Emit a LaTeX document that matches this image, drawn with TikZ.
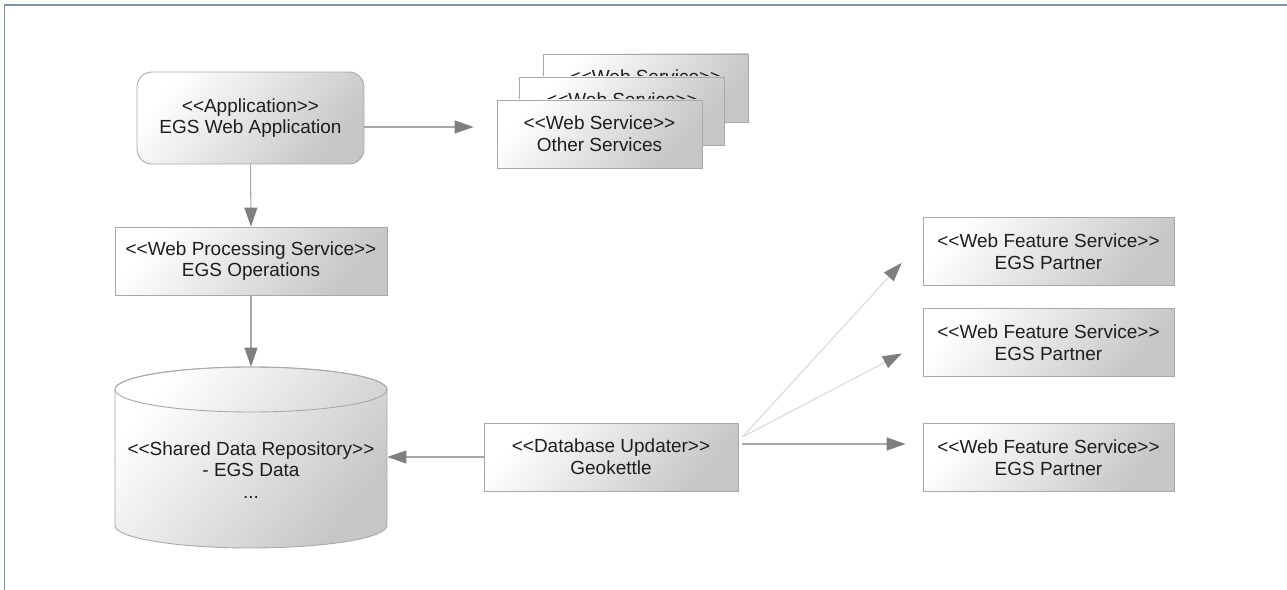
\documentclass[tikz,border=0pt]{standalone}
\usepackage{fontspec}
\setmainfont{Liberation Sans}
\usetikzlibrary{arrows.meta}

\definecolor{framec}{HTML}{7D92A9}
\definecolor{edgec}{HTML}{A8A8A8}
\definecolor{tipc}{HTML}{7F7F7F}
\definecolor{inkc}{HTML}{1E1E1E}
% keep << and >> from turning into guillemets
\newcommand\stl{<\kern0pt<}
\newcommand\str{>\kern0pt>}

\begin{document}
\begin{tikzpicture}[x=0.02cm,y=-0.02cm,
  lbl/.style={text=inkc,align=center,font=\fontsize{10.8}{12.4}\selectfont,inner sep=0pt},
  box/.style={lbl,draw=edgec,line width=0.5pt,top color=white,bottom color=gray!45,shading angle=50},
  flow/.style={draw=edgec,line width=0.6pt,-{Triangle[length=0.38cm,width=0.26cm,color=tipc]}},
  faint/.style={flow,draw=gray!30}]
\useasboundingbox (0,0) rectangle (1287,590);
% frame
\draw[framec,line width=0.04cm] (4.5,590) -- (4.5,5.5) -- (1287,5.5);

% application and web services
\node[box,rounded corners=0.3cm,minimum width=4.54cm,minimum height=1.84cm] (app) at (250.5,118)
  {\stl Application\str\\EGS Web Application};
\node[box,minimum width=4.1cm,minimum height=1.36cm] (ws3) at (645.5,88) {\stl Web Service\str\\Other Services};
\node[box,minimum width=4.1cm,minimum height=1.36cm] (ws2) at (622,111) {\stl Web Service\str\\Other Services};
\node[box,minimum width=4.1cm,minimum height=1.36cm] (ws1) at (599.5,134) {\stl Web Service\str\\Other Services};
\node[box,minimum width=5.44cm,minimum height=1.36cm] (wps) at (251,261)
  {\stl Web Processing Service\str\\EGS Operations};

% repository
\path[box] (115,389.5) -- (115,525.5)
  arc[start angle=180,end angle=360,x radius=2.72cm,y radius=0.45cm] -- (387,389.5)
  arc[start angle=0,end angle=180,x radius=2.72cm,y radius=0.45cm] -- cycle;
\draw[edgec,line width=0.5pt] (251,389.5) ellipse[x radius=2.72cm,y radius=0.45cm];
\node[lbl,minimum width=5.44cm,minimum height=4.12cm] (repo) at (251,470)
  {\stl Shared Data Repository\str\\- EGS Data\\...};

% updater and partners
\node[box,minimum width=5.08cm,minimum height=1.36cm] (du) at (611,457) {\stl Database Updater\str\\Geokettle};
\node[box,minimum width=5.02cm,minimum height=1.36cm] (wfs1) at (1048.5,251.5) {\stl Web Feature Service\str\\EGS Partner};
\node[box,minimum width=5.02cm,minimum height=1.36cm] (wfs2) at (1048.5,342.5) {\stl Web Feature Service\str\\EGS Partner};
\node[box,minimum width=5.02cm,minimum height=1.36cm] (wfs3) at (1048.5,457.5) {\stl Web Feature Service\str\\EGS Partner};
\coordinate (fan) at ([xshift=0.08cm,yshift=0.4cm]du.east);

% connectors
\draw[flow,shorten >=0.46cm] ([yshift=-0.18cm]app.east) -- ([yshift=-0.18cm]app.east -| ws1.west);
\draw[flow] (app.south) -- (wps.north);
\draw[flow] (wps.south) -- (repo.north);
\draw[flow] (du.west) -- (du.west -| repo.east);
\draw[faint,shorten >=0.62cm] (fan) -- ([yshift=0.23cm]wfs1.west);
\draw[faint,shorten >=0.47cm] (fan) -- (wfs2.west);
\draw[flow,shorten >=0.42cm] ([xshift=0.08cm,yshift=0.26cm]du.east) -- ([xshift=0.08cm,yshift=0.26cm]du.east -| wfs3.west);
\end{tikzpicture}
\end{document}
